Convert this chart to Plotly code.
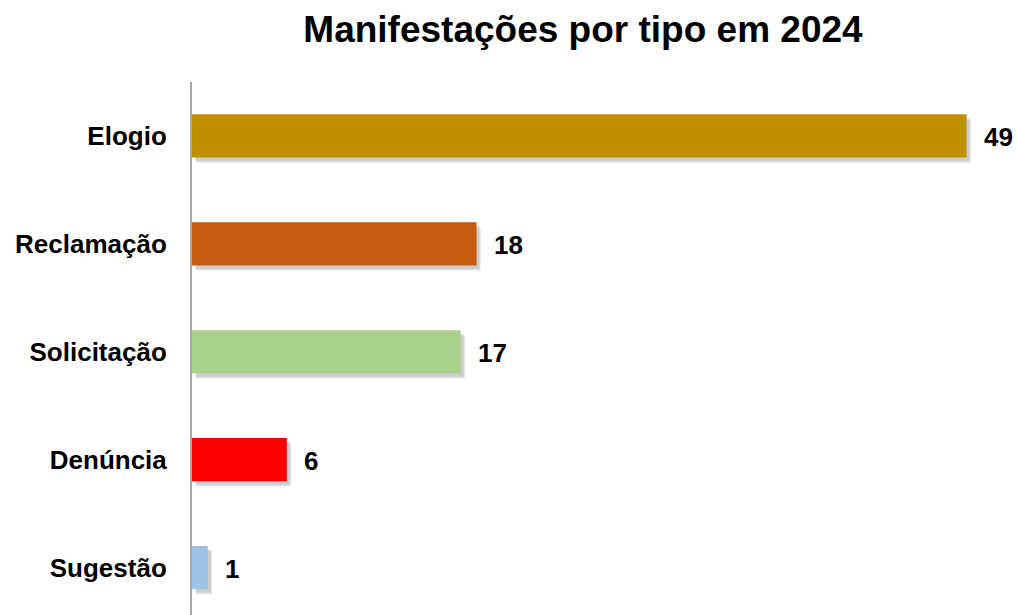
import plotly.graph_objects as go

categories = ["Elogio", "Reclamação", "Solicitação", "Denúncia", "Sugestão"]
values = [49, 18, 17, 6, 1]
colors = ["#BF9000", "#C55A11", "#A9D18E", "#FF0000", "#9DC3E6"]

# numeric y positions so the shadow bars can sit a bit lower
ypos = list(range(len(categories) - 1, -1, -1))

font = "Arial, Liberation Sans, sans-serif"
bar_w = 0.4
sdx = 0.18
sdy = 0.03

W, H = 1016, 615

fig = go.Figure()
# soft shadow under each bar
for k in range(3):
    fig.add_trace(go.Bar(
        x=values,
        y=[p - sdy - 0.01 * k for p in ypos],
        base=sdx + 0.05 * k,
        orientation="h",
        width=bar_w,
        marker=dict(color="rgba(0,0,0,0.07)", line=dict(width=0)),
        hoverinfo="skip",
        showlegend=False,
    ))
fig.add_trace(go.Bar(
    x=values,
    y=ypos,
    orientation="h",
    width=bar_w,
    marker=dict(color=colors, line=dict(width=0)),
    showlegend=False,
))

for v, p in zip(values, ypos):
    fig.add_annotation(
        x=v, y=p, text=str(v), showarrow=False,
        xanchor="left", yanchor="middle", xshift=15, yshift=-1,
        font=dict(family=font, size=26, color="black", weight="bold"),
    )

fig.update_layout(
    width=W, height=H,
    margin=dict(l=192, r=2, t=82, b=0),
    paper_bgcolor="white", plot_bgcolor="white",
    barmode="overlay",
    title=dict(
        text="Manifestações por tipo em 2024",
        x=583 / W, xanchor="center",
        y=1 - 29 / H, yanchor="middle",
        font=dict(family=font, size=37, color="black", weight="bold"),
    ),
)
fig.update_xaxes(range=[0, 52], visible=False, showgrid=False, zeroline=False)
fig.update_yaxes(
    range=[-0.44, 4.5],
    tickvals=ypos, ticktext=categories,
    tickfont=dict(family=font, size=26, color="black", weight="bold"),
    showgrid=False, zeroline=False,
    showline=True, linecolor="#A6A6A6", linewidth=2,
    ticks="", ticklabelstandoff=18,
)

# drop the browser's default 8px body margin so the figure fills the window
fig.write_html("out.html", config={"displayModeBar": False},
               post_script="document.body.style.margin='0';")
